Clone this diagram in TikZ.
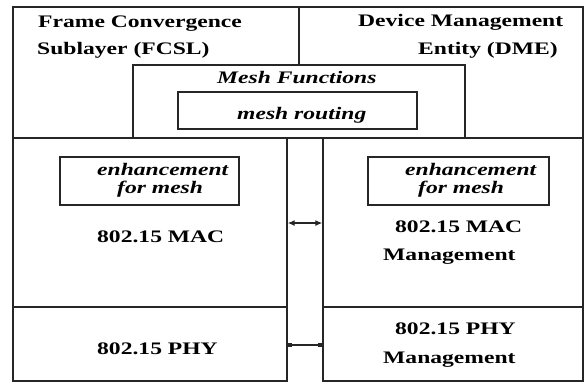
\documentclass[tikz,border=0pt]{standalone}
\usepackage{fontspec}
\setmainfont{Liberation Serif}[FakeStretch=1.34]
\usetikzlibrary{fit,arrows.meta}
\begin{document}
\begin{tikzpicture}[x=1pt,y=-1pt,
  box/.style={draw=black!85, line width=1.4pt, fill=white, inner sep=0pt},
  lbl/.style={anchor=base west, inner sep=0pt, font=\fontsize{17.6}{20}\selectfont\bfseries},
  ilbl/.style={lbl, font=\fontsize{17.6}{20}\selectfont\bfseries\itshape},
  link/.style={draw=black!85, line width=1.2pt}]
\useasboundingbox (0,0) rectangle (587,383);

% upper entities
\node[box, fit={(13,7)(299,138)}] (fcsl) {};
\node[box, fit={(299,7)(583,138)}] (dme) {};
\node[lbl] (fcsl1) at (38,27) {Frame Convergence};
\node[lbl] (fcsl2) at (37,54) {Sublayer (FCSL)};
\node[lbl] (dme1) at (358,26) {Device Management};
\node[lbl] (dme2) at (418,54) {Entity (DME)};

% mesh functions layer
\node[box, fit={(133,65)(465,138)}] (meshfn) {};
\node[box, fit={(178,92)(417,129)}] (meshrt) {};
\node[ilbl] (meshfnT) at (217,83) {Mesh Functions};
\node[ilbl] (meshrtT) at (237,119) {mesh routing};

% MAC / PHY stack
\node[box, fit={(13,138)(287,307)}] (mac) {};
\node[box, fit={(13,307)(287,381)}] (phy) {};
\node[box, fit={(323,138)(583,307)}] (macm) {};
\node[box, fit={(323,307)(583,381)}] (phym) {};

\node[box, fit={(60,157)(239,205)}] (enhL) {};
\node[box, fit={(368,157)(549,205)}] (enhR) {};
\node[ilbl] (enhL1) at (97,175) {enhancement};
\node[ilbl] (enhL2) at (117,193) {for mesh};
\node[ilbl] (enhR1) at (405,175) {enhancement};
\node[ilbl] (enhR2) at (418,193) {for mesh};

\node[lbl] (macT) at (97,242) {802.15 MAC};
\node[lbl] (phyT) at (97,354) {802.15 PHY};
\node[lbl] (macm1) at (395,232) {802.15 MAC};
\node[lbl] (macm2) at (383,260) {Management};
\node[lbl] (phym1) at (395,334) {802.15 PHY};
\node[lbl] (phym2) at (383,363) {Management};

% interfaces between data and management planes
\draw[link, {Latex[length=7pt,width=6pt]}-{Latex[length=7pt,width=6pt]}]
  (mac.east |- 0,223) -- (macm.west |- 0,223);
\draw[link, {Square[length=4.5pt,width=4.5pt]}-{Square[length=4.5pt,width=4.5pt]}]
  (phy.east |- 0,345) -- (phym.west |- 0,345);
\end{tikzpicture}
\end{document}
